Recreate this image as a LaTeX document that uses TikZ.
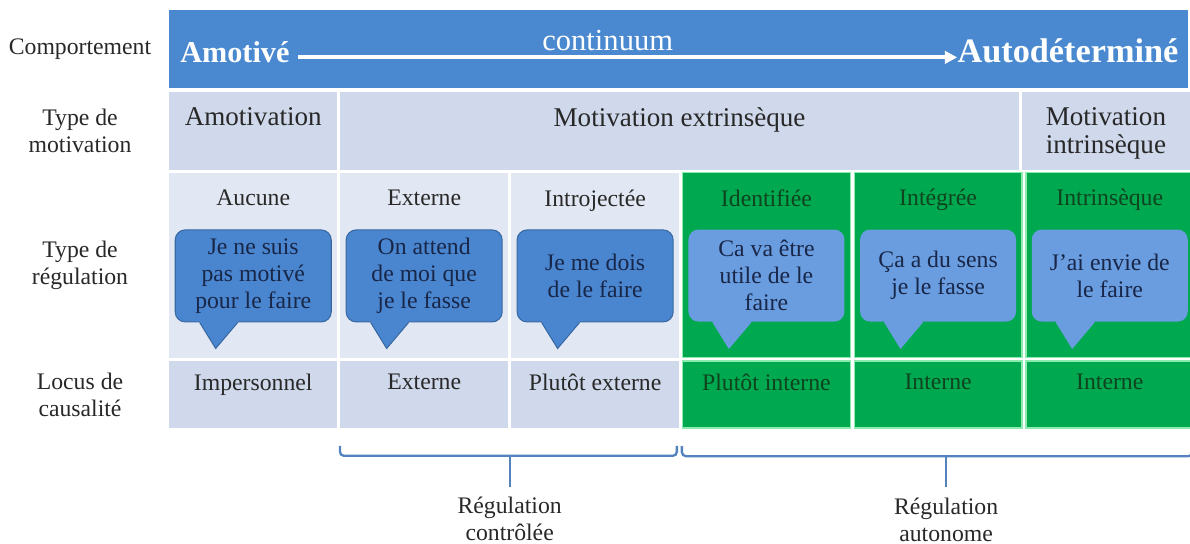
\documentclass[tikz,border=0pt]{standalone}
\usepackage{fontspec}
\setmainfont{Liberation Serif}
\usepackage{xcolor}
\usetikzlibrary{positioning, calc, arrows.meta}

\definecolor{bandblue}{RGB}{74,137,208}
\definecolor{paleblue}{RGB}{207,217,235}
\definecolor{palebluelight}{RGB}{226,232,243}
\definecolor{autogreen}{RGB}{0,168,80}
\definecolor{mintline}{RGB}{140,236,176}
\definecolor{darkgreen}{RGB}{14,68,30}
\definecolor{bubblue}{RGB}{74,134,207}
\definecolor{bubline}{RGB}{56,104,162}
\definecolor{bubpale}{RGB}{106,157,224}
\definecolor{bubtext}{RGB}{24,38,72}
\definecolor{bracecol}{RGB}{84,130,190}
\definecolor{inkgray}{RGB}{40,40,40}

\begin{document}
\begin{tikzpicture}[
        font=\fontsize{13.5}{15.4}\selectfont,
        band/.style={rectangle, fill=bandblue, minimum width=20.38cm, minimum height=1.56cm, inner sep=0pt},
        palecell/.style={rectangle, fill=paleblue, minimum width=3.355cm, inner sep=0pt},
        lightcell/.style={rectangle, fill=palebluelight, minimum width=3.355cm, minimum height=3.70cm, inner sep=0pt},
        greencell/.style={rectangle, fill=autogreen, draw=mintline, line width=0.8pt, minimum width=3.355cm, inner sep=0pt},
        sidelabel/.style={align=center, text=inkgray, inner sep=0pt},
        headtxt/.style={align=center, text=inkgray, inner sep=0pt, font=\fontsize{15.4}{16}\selectfont},
        celltxt/.style={align=center, text=inkgray, inner sep=0pt},
        greentxt/.style={celltxt, text=darkgreen},
        bandbold/.style={text=white, inner sep=0pt, font=\fontsize{17.2}{19}\selectfont\bfseries},
        bandtxt/.style={text=white, inner sep=0pt, font=\fontsize{17.4}{19}\selectfont},
        contarrow/.style={white, line width=2.2pt, -{Triangle[length=7pt, width=7pt]}},
        bubble/.style={rectangle, rounded corners=0.2cm, fill=bubblue, draw=bubline, line width=0.6pt, minimum width=3.12cm, minimum height=1.84cm, align=center, text=bubtext, inner sep=0pt},
        palebubble/.style={bubble, fill=bubpale, draw=none},
        brace/.style={draw=bracecol, line width=1.3pt, rounded corners=0.08cm}
    ]
    \useasboundingbox (0,0) rectangle (23.8,-10.88);

    % 1. Comportement (bandeau bleu + continuum)
    \node[band, anchor=north west] (comp) at (3.38,-0.2) {};
    \node[sidelabel, left=1.78cm of comp.west, anchor=center] (lcomp) {Comportement};
    \node[bandbold, right=0.22cm of comp.west, anchor=base west, yshift=-0.26cm] (amot) {Amotivé};
    \node[bandbold, left=0.2cm of comp.east, anchor=base east, yshift=-0.26cm, font=\fontsize{19.5}{21}\selectfont\bfseries] (autod) {Autodéterminé};
    \draw[contarrow] ([xshift=0.16cm, yshift=0.1cm]amot.base east) -- node[pos=0.47, above=0.1cm, bandtxt] (cont) {continuum} ([yshift=0.1cm]autod.base west);

    % 2. Type de motivation
    \node[palecell, minimum height=1.56cm, below=0.05cm of comp.south west, anchor=north west] (amo) {};
    \node[palecell, minimum height=1.56cm, minimum width=13.57cm, right=0.05cm of amo] (extr) {};
    \node[palecell, minimum height=1.56cm, right=0.05cm of extr] (intr) {};
    \node[sidelabel, left=1.78cm of amo.west, anchor=center] (lmot) {Type de\\motivation};
    \node[headtxt, below=0.32cm of amo.north] (tamo) {Amotivation};
    \node[headtxt, below=0.32cm of extr.north] (textr) {Motivation extrinsèque};
    \node[headtxt, below=0.32cm of intr.north] (tintr) {Motivation\\intrinsèque};

    % 3. Type de regulation (cellules + bulles)
    \node[lightcell, below=0.05cm of amo.south west, anchor=north west] (r1) {};
    \node[lightcell, right=0.05cm of r1] (r2) {};
    \node[lightcell, right=0.05cm of r2] (r3) {};
    \node[greencell, minimum height=3.70cm, right=0.05cm of r3] (r4) {};
    \node[greencell, minimum height=3.70cm, right=0.05cm of r4] (r5) {};
    \node[greencell, minimum height=3.70cm, right=0.05cm of r5] (r6) {};
    \node[sidelabel, left=1.78cm of r1.west, anchor=center] (lreg) {Type de\\régulation};

    \node[celltxt, below=0.34cm of r1.north] (h1) {Aucune};
    \node[celltxt, below=0.34cm of r2.north] (h2) {Externe};
    \node[celltxt, below=0.34cm of r3.north] (h3) {Introjectée};
    \node[greentxt, below=0.34cm of r4.north] (h4) {Identifiée};
    \node[greentxt, below=0.34cm of r5.north] (h5) {Intégrée};
    \node[greentxt, below=0.34cm of r6.north] (h6) {Intrinsèque};

    \node[bubble, below=1.14cm of r1.north] (b1) {Je ne suis\\pas motivé\\pour le faire};
    \node[bubble, below=1.14cm of r2.north] (b2) {On attend\\de moi que\\je le fasse};
    \node[bubble, below=1.14cm of r3.north] (b3) {Je me dois\\de le faire};
    \node[palebubble, below=1.14cm of r4.north] (b4) {Ca va être\\utile de le\\faire};
    \node[palebubble, below=1.14cm of r5.north] (b5) {Ça a du sens\\je le fasse};
    \node[palebubble, below=1.14cm of r6.north] (b6) {J’ai envie de\\le faire};

    % queues des bulles
    \foreach \b/\f/\l in {b1/bubblue/bubline, b2/bubblue/bubline, b3/bubblue/bubline, b4/bubpale/bubpale, b5/bubpale/bubpale, b6/bubpale/bubpale} {
        \fill[\f] ($(\b.south west)+(0.50,0.04)$) -- ($(\b.south west)+(0.50,0)$) -- ($(\b.south west)+(0.82,-0.52)$) -- ($(\b.south west)+(1.26,0)$) -- ($(\b.south west)+(1.26,0.04)$) -- cycle;
        \draw[\l, line width=0.6pt] ($(\b.south west)+(0.50,0)$) -- ($(\b.south west)+(0.82,-0.52)$) -- ($(\b.south west)+(1.26,0)$);
    }

    % 4. Locus de causalite
    \node[palecell, minimum height=1.34cm, below=0.05cm of r1.south west, anchor=north west] (l1) {};
    \node[palecell, minimum height=1.34cm, right=0.05cm of l1] (l2) {};
    \node[palecell, minimum height=1.34cm, right=0.05cm of l2] (l3) {};
    \node[greencell, minimum height=1.34cm, right=0.05cm of l3] (l4) {};
    \node[greencell, minimum height=1.34cm, right=0.05cm of l4] (l5) {};
    \node[greencell, minimum height=1.34cm, right=0.05cm of l5] (l6) {};
    \node[sidelabel, left=1.78cm of l1.west, anchor=center] (lloc) {Locus de\\causalité};

    \node[celltxt, below=0.26cm of l1.north] (t1) {Impersonnel};
    \node[celltxt, below=0.26cm of l2.north] (t2) {Externe};
    \node[celltxt, below=0.26cm of l3.north] (t3) {Plutôt externe};
    \node[greentxt, below=0.26cm of l4.north] (t4) {Plutôt interne};
    \node[greentxt, below=0.26cm of l5.north] (t5) {Interne};
    \node[greentxt, below=0.26cm of l6.north] (t6) {Interne};

    % 5. Accolades : regulation controlee / autonome
    \coordinate (ctlA) at ($(l2.south west)+(0,-0.35)$);
    \coordinate (ctlB) at ($(l3.south east)+(-0.05,-0.35)$);
    \coordinate (ctlS) at ($(l2.south east)!0.5!(l3.south west)+(0,-0.55)$);
    \coordinate (autA) at ($(l4.south west)+(0,-0.35)$);
    \coordinate (autB) at ($(l6.south east)+(-0.04,-0.35)$);
    \coordinate (autS) at ($(l5.south)+(0.16,-0.55)$);

    \draw[brace] (ctlA) -- ++(0,-0.2) -| (ctlB);
    \draw[brace] (ctlS) -- ++(0,-0.62) coordinate (ctlE);
    \draw[brace] (autA) -- ++(0,-0.2) -| (autB);
    \draw[brace] (autS) -- ++(0,-0.62) coordinate (autE);

    \node[celltxt, below=0.2cm of ctlE] (rctl) {Régulation\\contrôlée};
    \node[celltxt, below=0.2cm of autE] (raut) {Régulation\\autonome};

\end{tikzpicture}
\end{document}
